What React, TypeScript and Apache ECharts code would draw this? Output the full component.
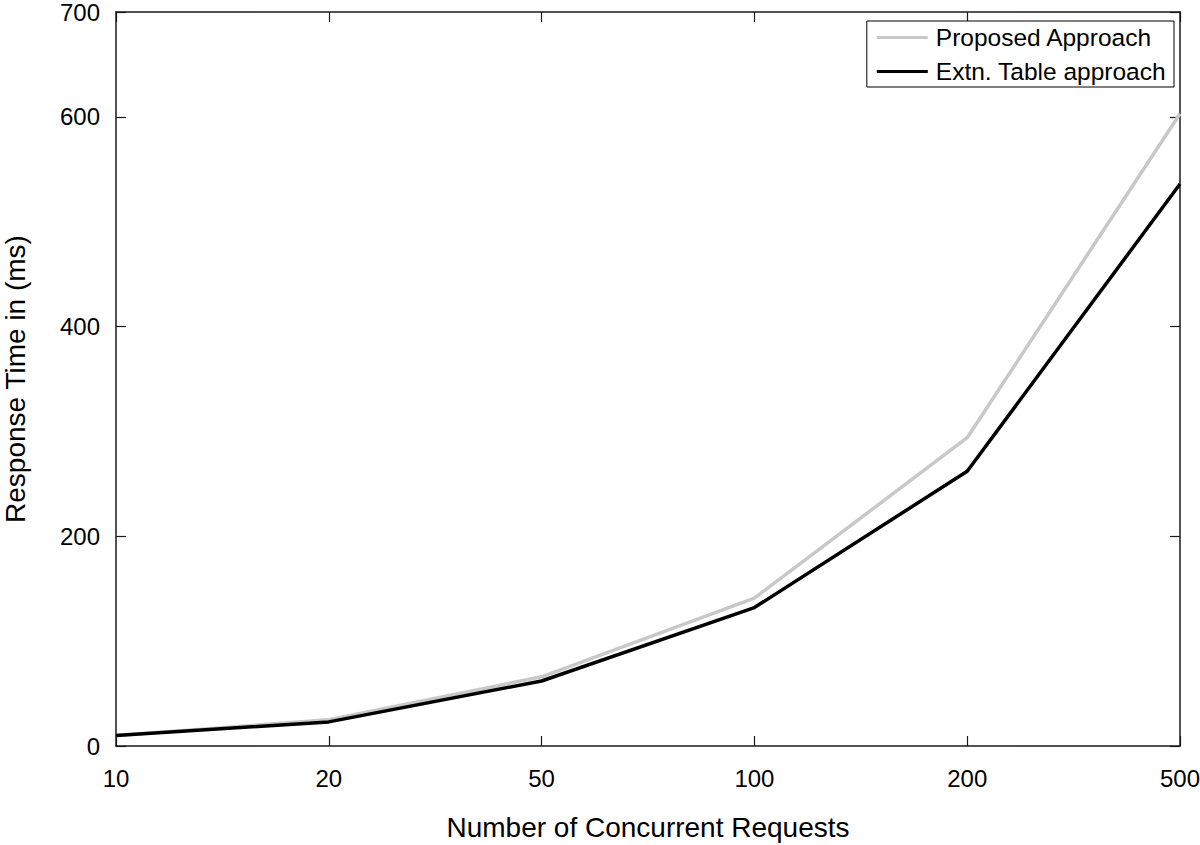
import React, { useEffect, useRef } from "react";
import * as echarts from "echarts";

const categories = ["10", "20", "50", "100", "200", "500"];
const proposed = [10, 25, 66, 141, 294, 603];
const extnTable = [10, 23, 62, 132, 262, 536];
const seriesNames = ["Proposed Approach", "Extn. Table approach"];
const yTicks = { min: 0, max: 700, interval: 200 };

const FONT = "Liberation Sans, Arial, Helvetica, sans-serif";
const AXIS_COLOR = "#1a1a1a";

export default function App() {
  const ref = useRef<HTMLDivElement>(null);
  useEffect(() => {
    if (!ref.current) return;
    const chart = echarts.init(ref.current, null, { renderer: "svg" });
    const tick = { show: true, inside: true, length: 10, lineStyle: { color: AXIS_COLOR, width: 1.2 } };
    const line = { show: true, onZero: false, lineStyle: { color: AXIS_COLOR, width: 1.5 } };
    chart.setOption({
      animation: false,
      backgroundColor: "#ffffff",
      textStyle: { fontFamily: FONT },
      grid: {
        left: 116,
        right: 20,
        top: 12,
        bottom: 99,
        containLabel: false,
        outerBoundsMode: "none",
      },
      legend: {
        data: seriesNames,
        orient: "vertical",
        right: 26,
        top: 21,
        itemGap: 9,
        itemWidth: 51,
        itemHeight: 3,
        icon: "rect",
        padding: [4, 8, 3, 10],
        borderColor: "#000",
        borderWidth: 1,
        borderRadius: 0,
        backgroundColor: "#fff",
        textStyle: { fontSize: 24.5, color: "#000", fontFamily: FONT, padding: [0, 0, 0, 3] },
      },
      xAxis: [
        {
          type: "category",
          data: categories,
          boundaryGap: false,
          position: "bottom",
          axisLine: line,
          axisTick: { ...tick, alignWithLabel: true },
          axisLabel: { fontSize: 24, color: "#000", margin: 20, fontFamily: FONT },
          splitLine: { show: false },
          name: "Number of Concurrent Requests",
          nameLocation: "middle",
          nameGap: 67,
          nameTextStyle: { fontSize: 28, color: "#000", fontFamily: FONT },
        },
        {
          type: "category",
          data: categories,
          boundaryGap: false,
          position: "top",
          axisLine: line,
          axisTick: tick,
          axisLabel: { show: false },
          splitLine: { show: false },
        },
      ],
      yAxis: [
        {
          type: "value",
          min: yTicks.min,
          max: yTicks.max,
          interval: yTicks.interval,
          position: "left",
          axisLine: line,
          axisTick: tick,
          axisLabel: { fontSize: 24, color: "#000", margin: 16, fontFamily: FONT },
          splitLine: { show: false },
          name: "Response Time in (ms)",
          nameLocation: "middle",
          nameGap: 87,
          nameTextStyle: { fontSize: 28, color: "#000", fontFamily: FONT },
        },
        {
          type: "value",
          min: yTicks.min,
          max: yTicks.max,
          interval: yTicks.interval,
          position: "right",
          axisLine: line,
          axisTick: tick,
          axisLabel: { show: false },
          splitLine: { show: false },
        },
      ],
      series: [
        {
          name: seriesNames[0],
          type: "line",
          data: proposed,
          showSymbol: false,
          symbol: "none",
          lineStyle: { color: "#c8c8c8", width: 3.5 },
          itemStyle: { color: "#c8c8c8" },
        },
        {
          name: seriesNames[1],
          type: "line",
          data: extnTable,
          showSymbol: false,
          symbol: "none",
          lineStyle: { color: "#000000", width: 3.5 },
          itemStyle: { color: "#000000" },
        },
      ],
    });
    return () => chart.dispose();
  }, []);
  return (
    <div
      ref={ref}
      style={{ position: "fixed", left: 0, top: 0, width: 1200, height: 845, background: "#fff" }}
    />
  );
}
